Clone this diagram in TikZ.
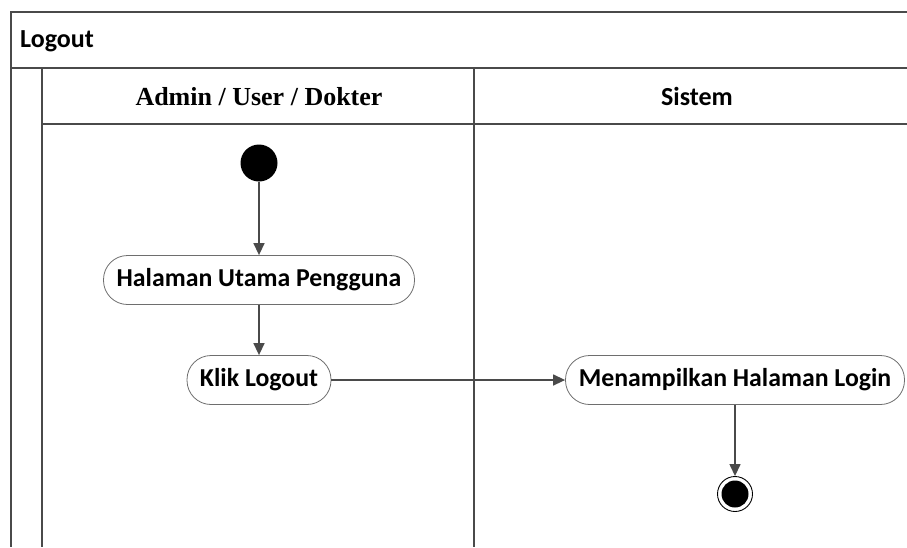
\documentclass[tikz,border=0pt]{standalone}
\usepackage{fontspec}
\setmainfont{Carlito}
\newfontfamily\laneserif{Liberation Serif}
\usetikzlibrary{arrows.meta,positioning}
\definecolor{frame}{HTML}{4A4A4A}
\tikzset{
  activity/.style={
    % The shape:
    rectangle, rounded corners=24pt,
    % The size:
    minimum height=49pt,
    % The border:
    draw=frame!80, line width=0.8pt,
    % The filling:
    fill=white,
    % Font
    font=\bfseries\fontsize{25.8}{30}\selectfont,
  },
  initial/.style={circle, fill=black, minimum size=37pt, inner sep=0pt},
  final/.style={circle, draw=black, line width=0.9pt, minimum size=35pt, inner sep=0pt,
    path picture={\fill[black] (path picture bounding box.center) circle (13.5pt);}},
  flow/.style={draw=frame, line width=1.4pt, -{Triangle[length=12pt,width=11pt]}},
  lane/.style={draw=frame, line width=1.8pt},
}

\begin{document}
\begin{tikzpicture}[x=1pt, y=-1pt]

  \useasboundingbox (0, 0) rectangle (907, 547);

  % frame and swimlanes
  \draw[lane] (907, 12) -- (11, 12) -- (11, 547);
  \draw[lane] (11, 68) -- (907, 68);
  \draw[lane] (42, 68) -- (42, 547);
  \draw[lane] (474, 68) -- (474, 547);
  \draw[lane] (42, 124) -- (907, 124);

  \node (title) [anchor=west, inner sep=0pt, font=\bfseries\fontsize{26}{30}\selectfont] at (20, 41) {Logout};
  \node (lane user) [font=\laneserif\bfseries\fontsize{26}{30}\selectfont] at (259, 97) {Admin / User / Dokter};
  \node (lane sys) [font=\bfseries\fontsize{26}{30}\selectfont] at (697, 96) {Sistem};

  % actions
  \node (start) [initial] at (259, 163) {};
  \node (home) [activity, minimum width=311pt] at (259, 280) {Halaman Utama Pengguna};
  \node (logout) [activity, minimum width=144pt] at (259, 380) {Klik Logout};
  \node (login) [activity, minimum width=339pt] at (735, 380) {Menampilkan Halaman Login};
  \node (stop) [final] at (735, 494) {};

  \draw[flow] (start) to (home);
  \draw[flow] (home) to (logout);
  \draw[flow] (logout) to (login);
  \draw[flow] (login) to (stop);

\end{tikzpicture}
\end{document}
